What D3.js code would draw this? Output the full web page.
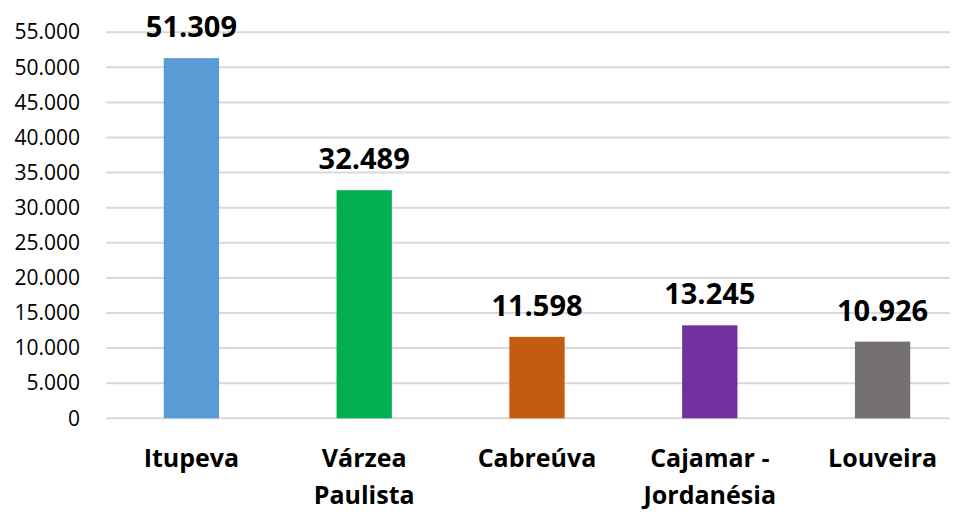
<!DOCTYPE html>
<html>
<head>
<meta charset="utf-8">
<script src="https://cdn.jsdelivr.net/npm/d3@7"></script>
<style>
  body { margin: 0; background: #fff; }
  text { font-family: "Open Sans", sans-serif; fill: #000; }
</style>
</head>
<body>
<div id="painting"></div>
<script>
// chart data
var cities = [["Itupeva"], ["Várzea", "Paulista"], ["Cabreúva"], ["Cajamar -", "Jordanésia"], ["Louveira"]];
var values = [51309, 32489, 11598, 13245, 10926];
var colours = ["#5B9BD5", "#00B050", "#C55A11", "#7030A0", "#767171"];
var yTicks = [0, 5000, 10000, 15000, 20000, 25000, 30000, 35000, 40000, 45000, 50000, 55000];

var w = 956, h = 525;
var fmt = function(v) { return d3.format(",")(v).replace(/,/g, "."); };

var svg = d3.select("#painting")
  .append("svg")
  .attr("width", w)
  .attr("height", h);

var xScale = d3.scaleBand()
  .domain(d3.range(values.length))
  .range([105, 969])
  .paddingInner(0.68)
  .paddingOuter(0.34);

var yScale = d3.scaleLinear()
  .domain([0, 55000])
  .range([418.3, 32.2]);

// gridlines
svg.append("g")
  .selectAll("line")
  .data(yTicks)
  .enter()
  .append("line")
  .attr("x1", 106)
  .attr("x2", 950)
  .attr("y1", function(d) { return yScale(d); })
  .attr("y2", function(d) { return yScale(d); })
  .attr("stroke", "#D9D9D9")
  .attr("stroke-width", 2);

// y axis labels
var yAxis = d3.axisLeft(yScale)
  .tickValues(yTicks)
  .tickFormat(fmt)
  .tickSize(0)
  .tickPadding(0);

svg.append("g")
  .attr("transform", "translate(80,0)")
  .call(yAxis)
  .call(function(g) { g.select(".domain").remove(); })
  .selectAll("text")
  .attr("font-family", "Open Sans, sans-serif")
  .attr("font-size", "21px")
  .attr("fill", "#000");

// bars
svg.append("g")
  .selectAll("rect")
  .data(values)
  .enter()
  .append("rect")
  .attr("x", function(d, i) { return xScale(i); })
  .attr("y", function(d) { return yScale(d); })
  .attr("width", xScale.bandwidth())
  .attr("height", function(d) { return yScale(0) - yScale(d); })
  .attr("fill", function(d, i) { return colours[i]; });

// value labels
svg.append("g")
  .selectAll("text")
  .data(values)
  .enter()
  .append("text")
  .attr("x", function(d, i) { return xScale(i) + xScale.bandwidth() / 2; })
  .attr("y", function(d) { return yScale(d) - 21; })
  .attr("text-anchor", "middle")
  .attr("font-size", "29px")
  .attr("font-weight", "bold")
  .text(fmt);

// category labels
var cats = svg.append("g")
  .selectAll("text")
  .data(cities)
  .enter()
  .append("text")
  .attr("text-anchor", "middle")
  .attr("font-size", "25px")
  .attr("font-weight", "bold");

cats.selectAll("tspan")
  .data(function(d, i) { return d.map(function(s) { return {s: s, i: i}; }); })
  .enter()
  .append("tspan")
  .attr("x", function(d) { return xScale(d.i) + xScale.bandwidth() / 2; })
  .attr("y", function(d, j) { return 467 + j * 36.5; })
  .text(function(d) { return d.s; });
</script>
</body>
</html>
